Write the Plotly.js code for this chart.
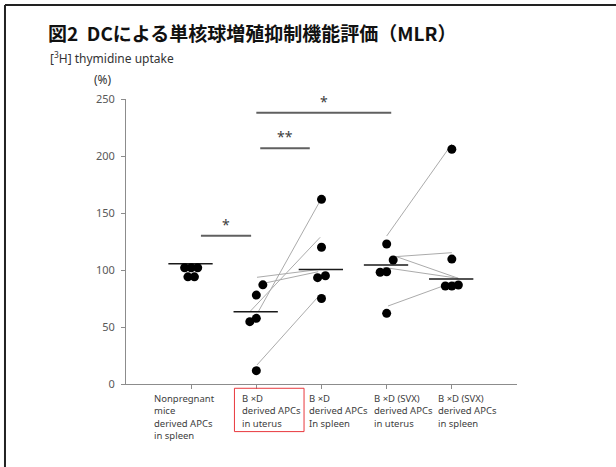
<!DOCTYPE html>
<html>
<head>
<meta charset="utf-8">
<script src="https://cdn.plot.ly/plotly-3.0.1.min.js"></script>
<style>
  html, body { margin: 0; padding: 0; background: #ffffff; }
  #chart { width: 616px; height: 467px; }
</style>
</head>
<body>
<div id="chart"></div>
<script>
// ---------- data ----------
const categoryLabels = [
  'Nonpregnant<br>mice<br>derived APCs<br>in spleen',
  'B ×D<br>derived APCs<br>in uterus',
  'B ×D<br>derived APCs<br>In spleen',
  'B ×D (SVX)<br>derived APCs<br>in uterus',
  'B ×D (SVX)<br>derived APCs<br>in spleen'
];
const yTicks = [0, 50, 100, 150, 200, 250];

// individual values per group (%)
const nonpregnantSpleen = [102, 102, 102, 94, 94];
const bdUterus          = [87, 78, 57.6, 54.7, 11.7];
const bdSpleen          = [162, 120, 95, 93.3, 75];
const svxUterus         = [122.8, 108.8, 98.5, 98, 62];
const svxSpleen         = [205.9, 109.6, 86.8, 86, 86];
// horizontal jitter of the dots (category units)
const jitter1 = [-0.1, 0, 0.1, -0.05, 0.05];
const jitter2 = [0.1, 0, 0, -0.1, 0];
const jitter3 = [0, 0, 0.06, -0.06, 0];
const jitter4 = [0, 0.1, 0, -0.1, 0];
const jitter5 = [0, 0, 0.1, 0, -0.1];

// group mean bars
const meanValues = [105.5, 63.4, 100.5, 104.4, 92];

// paired lines uterus -> spleen
const bdLinkFrom  = [63.4, 63.4, 93.6, 88.3, 16.7];
const bdLinkTo    = [160.8, 128.7, 100.6, 98.5, 76.6];
const bdLinkDx0   = [0.03, -0.1, 0.01, 0.11, 0.01];
const bdLinkDx1   = [-0.02, -0.02, -0.02, -0.05, -0.05];
const svxLinkFrom = [129.8, 111.7, 111.7, 102.3, 68.4];
const svxLinkTo   = [210.5, 115.2, 92.7, 92.7, 89.8];
const svxLinkDx0  = [0, 0.13, 0.15, -0.05, 0.02];
const svxLinkDx1  = [0, 0, 0.1, 0.1, 0.05];

// significance brackets
const sigLabels = ['*', '**', '*'];
const sigY      = [130, 206.7, 238];
const sigFrom   = [0.15, 1.06, 1.0];
const sigTo     = [0.92, 1.82, 3.07];

// ---------- build traces ----------
const groups = [nonpregnantSpleen, bdUterus, bdSpleen, svxUterus, svxSpleen];
const jitters = [jitter1, jitter2, jitter3, jitter4, jitter5];
const traces = [];

// link lines (drawn first so dots are on top)
function addLinks(fromCat, from, to, dx0, dx1) {
  const xs = [], ys = [];
  for (let i = 0; i < from.length; i++) {
    xs.push(fromCat + dx0[i], fromCat + 1 + dx1[i], null);
    ys.push(from[i], to[i], null);
  }
  traces.push({x: xs, y: ys, mode: 'lines', type: 'scatter',
    line: {color: '#ababab', width: 1}, hoverinfo: 'skip', showlegend: false});
}
addLinks(1, bdLinkFrom, bdLinkTo, bdLinkDx0, bdLinkDx1);
addLinks(3, svxLinkFrom, svxLinkTo, svxLinkDx0, svxLinkDx1);

// mean bars
(function () {
  const xs = [], ys = [];
  meanValues.forEach((m, c) => { xs.push(c - 0.35, c + 0.33, null); ys.push(m, m, null); });
  traces.push({x: xs, y: ys, mode: 'lines', type: 'scatter',
    line: {color: '#1a1a1a', width: 1.5}, hoverinfo: 'skip', showlegend: false});
})();

// significance bars
(function () {
  const xs = [], ys = [];
  sigY.forEach((v, i) => { xs.push(sigFrom[i], sigTo[i], null); ys.push(v, v, null); });
  traces.push({x: xs, y: ys, mode: 'lines', type: 'scatter',
    line: {color: '#606060', width: 2}, hoverinfo: 'skip', showlegend: false});
})();

// dots
groups.forEach((vals, c) => {
  traces.push({
    x: vals.map((v, i) => c + jitters[c][i]),
    y: vals,
    mode: 'markers', type: 'scatter',
    marker: {color: '#000000', size: 9},
    showlegend: false
  });
});

// ---------- annotations ----------
const annotations = [];
const labelFont = {family: 'Noto Sans, sans-serif', size: 9.5, color: '#404040'};
const labelX = [-0.6, 0.75, 1.78, 2.77, 3.75];
categoryLabels.forEach((t, i) => {
  annotations.push({text: t, x: labelX[i], xref: 'x', y: 0, yref: 'paper',
    xanchor: 'left', yanchor: 'top', yshift: -6, align: 'left',
    showarrow: false, font: labelFont});
});
sigLabels.forEach((t, i) => {
  annotations.push({text: t, x: (sigFrom[i] + sigTo[i]) / 2, xref: 'x', y: sigY[i], yref: 'y',
    xanchor: 'center', yanchor: 'bottom', yshift: 0, showarrow: false,
    font: {family: 'Noto Sans, sans-serif', size: 14, color: '#404040'}});
});
annotations.push({text: '[<sup>3</sup>H] thymidine uptake', x: -0.1995, xref: 'paper',
  y: 1.145, yref: 'paper', xanchor: 'left', yanchor: 'middle', showarrow: false,
  font: {family: 'Noto Sans, sans-serif', size: 12, color: '#333333'}});
annotations.push({text: '(%)', x: -0.059, xref: 'paper',
  y: 1.07, yref: 'paper', xanchor: 'center', yanchor: 'middle', showarrow: false,
  font: {family: 'Noto Sans, sans-serif', size: 12, color: '#333333'}});

// ---------- layout ----------
const layout = {
  width: 616, height: 467,
  margin: {l: 126, r: 99, t: 99, b: 83},
  paper_bgcolor: '#ffffff', plot_bgcolor: '#ffffff',
  title: {
    text: '<b>図2  DCによる単核球増殖抑制機能評価（MLR）</b>',
    x: 48 / 616, xref: 'container', xanchor: 'left',
    y: 1 - 34 / 467, yref: 'container', yanchor: 'middle',
    font: {family: 'Noto Sans CJK JP, sans-serif', size: 19, color: '#111111'}
  },
  xaxis: {
    range: [-1, 5], showgrid: false, zeroline: false, showline: true,
    linecolor: '#8c8c8c', linewidth: 1, ticks: 'outside', ticklen: 4,
    tickcolor: '#8c8c8c', tickvals: [0, 1, 2, 3, 4], showticklabels: false, fixedrange: true
  },
  yaxis: {
    range: [0, 250], showgrid: false, zeroline: false, showline: true,
    linecolor: '#8c8c8c', linewidth: 1, ticks: 'outside', ticklen: 4,
    tickcolor: '#8c8c8c', tickvals: yTicks, ticklabelstandoff: 4,
    tickfont: {family: 'Noto Sans, sans-serif', size: 11, color: '#595959'}, fixedrange: true
  },
  annotations: annotations,
  shapes: [
    {type: 'rect', xref: 'x', yref: 'paper', x0: 0.664, x1: 1.732, y0: -0.015, y1: -0.167,
      line: {color: '#e8383d', width: 1}},
    {type: 'line', xref: 'paper', yref: 'paper', x0: -0.3095, x1: -0.3095, y0: -0.3, y1: 1.33,
      line: {color: '#222222', width: 2}},
    {type: 'line', xref: 'paper', yref: 'paper', x0: -0.3095, x1: 1.26, y0: 1.33, y1: 1.33,
      line: {color: '#222222', width: 2}}
  ],
  showlegend: false
};

Plotly.newPlot('chart', traces, layout, {displayModeBar: false, staticPlot: true});
</script>
</body>
</html>
